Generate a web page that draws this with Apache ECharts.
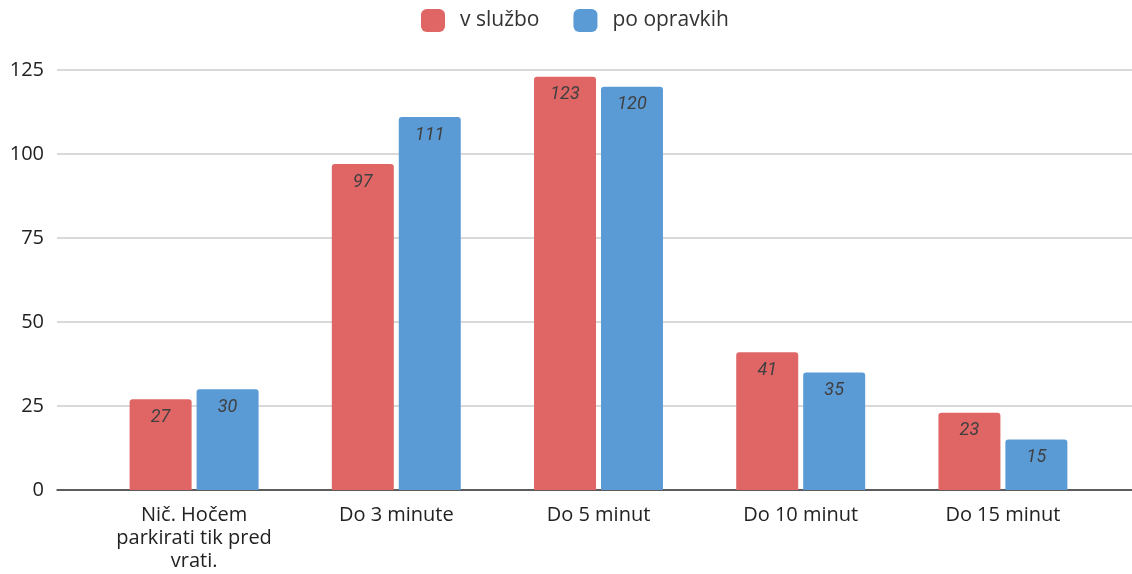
<!DOCTYPE html>
<html>
<head>
<meta charset="utf-8">
<script src="https://cdn.jsdelivr.net/npm/echarts@6/dist/echarts.min.js"></script>
<style>
  html, body { margin: 0; padding: 0; background: #fff; }
  #main { width: 1132px; height: 574px; }
</style>
</head>
<body>
<div id="main"></div>
<script>
var categories = ['Nič. Hočem\nparkirati tik pred\nvrati.', 'Do 3 minute', 'Do 5 minut', 'Do 10 minut', 'Do 15 minut'];
var vSluzbo = [27, 97, 123, 41, 23];
var poOpravkih = [30, 111, 120, 35, 15];
var yTicks = [0, 25, 50, 75, 100, 125];

var myChart = echarts.init(document.getElementById('main'));

var labelStyle = {
  show: true,
  position: 'insideTop',
  distance: 9,
  fontStyle: 'italic',
  fontFamily: 'Roboto',
  fontSize: 18,
  color: '#3f3f3f'
};

var option = {
  backgroundColor: '#ffffff',
  animation: false,
  legend: {
    top: 9,
    left: 421,
    icon: 'roundRect',
    itemWidth: 24,
    itemHeight: 23,
    itemGap: 34,
    padding: 0,
    textStyle: { fontSize: 21, color: '#333', fontFamily: 'Open Sans', padding: [0, 0, 0, 10] },
    data: ['v službo', 'po opravkih']
  },
  grid: [
    { left: 57, right: 0, top: 70, bottom: 84 },
    { left: 93, right: 28, top: 70, bottom: 84 }
  ],
  xAxis: [
    {
      gridIndex: 0,
      type: 'category',
      data: [''],
      axisLine: { lineStyle: { color: '#333', width: 1.5 } },
      axisTick: { show: false },
      axisLabel: { show: false }
    },
    {
      gridIndex: 1,
      type: 'category',
      data: categories,
      axisLine: { show: false },
      axisTick: { show: false },
      axisLabel: {
        margin: 14,
        fontSize: 20,
        lineHeight: 23,
        color: '#222',
        fontFamily: 'Open Sans',
        interval: 0
      }
    }
  ],
  yAxis: [
    {
      gridIndex: 0,
      type: 'value',
      min: yTicks[0],
      max: yTicks[yTicks.length - 1],
      interval: 25,
      axisLine: { show: false },
      axisTick: { show: false },
      axisLabel: { margin: 13, fontSize: 20, color: '#222', fontFamily: 'Open Sans' },
      splitLine: { lineStyle: { color: '#cccccc', width: 1.5 } }
    },
    {
      gridIndex: 1,
      type: 'value',
      min: yTicks[0],
      max: yTicks[yTicks.length - 1],
      interval: 25,
      show: false,
      splitLine: { show: false }
    }
  ],
  series: [
    {
      name: 'v službo',
      type: 'bar',
      xAxisIndex: 1,
      yAxisIndex: 1,
      barWidth: 62,
      barGap: '8%',
      itemStyle: { color: '#e06666', borderRadius: [3, 3, 0, 0] },
      label: labelStyle,
      data: vSluzbo
    },
    {
      name: 'po opravkih',
      type: 'bar',
      xAxisIndex: 1,
      yAxisIndex: 1,
      barWidth: 62,
      barGap: '8%',
      itemStyle: { color: '#5b9bd5', borderRadius: [3, 3, 0, 0] },
      label: labelStyle,
      data: poOpravkih
    }
  ]
};

myChart.setOption(option);
</script>
</body>
</html>
